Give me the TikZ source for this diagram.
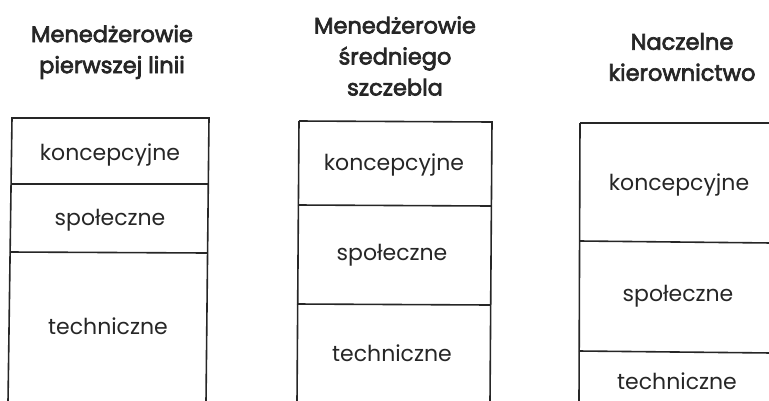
\documentclass[tikz,border=0pt]{standalone}
\usepackage{fontspec}
\setmainfont{Poppins}
\newfontfamily\titlefont[FakeBold=3]{Poppins}
\begin{document}
\begin{tikzpicture}[x=1pt,y=-1pt,
  boxline/.style={draw=black!85,line width=1.6pt},
  title/.style={font=\titlefont\fontsize{22.5}{31}\selectfont,align=center,text=black!85},
  cell/.style={font=\fontsize{22}{24}\selectfont,text=black!85}]
\useasboundingbox (0,0) rectangle (769,400);
% column 1
\draw[boxline] (12,118) -- (209,118) -- (206,402) -- (8,402) -- cycle;
\draw[boxline] (11,184) -- (208,184);
\draw[boxline] (10,252) -- (207,253);
\node[title] (t1) at (112,52) {Menedżerowie\\pierwszej linii};
\node[cell] (a1) at (110,155) {koncepcyjne};
\node[cell] (b1) at (110,220) {społeczne};
\node[cell] (c1) at (108,326) {techniczne};
% column 2
\draw[boxline] (299,121) -- (492,122) -- (490,402);
\draw[boxline] (299,121) -- (297,402);
\draw[boxline] (298,205) -- (491,206);
\draw[boxline] (297,304) -- (490,305);
\node[title] (t2) at (395,56) {Menedżerowie\\średniego\\szczebla};
\node[cell] (a2) at (394,165) {koncepcyjne};
\node[cell] (b2) at (392,255) {społeczne};
\node[cell] (c2) at (392,353) {techniczne};
% column 3
\draw[boxline] (580,123) -- (772,123);
\draw[boxline] (580,123) -- (579,402);
\draw[boxline] (580,241) -- (772,243);
\draw[boxline] (579,351) -- (772,353);
\node[title] (t3) at (682,57) {Naczelne\\kierownictwo};
\node[cell] (a3) at (679,185) {koncepcyjne};
\node[cell] (b3) at (678,296) {społeczne};
\node[cell] (c3) at (677,381) {techniczne};
\end{tikzpicture}
\end{document}
